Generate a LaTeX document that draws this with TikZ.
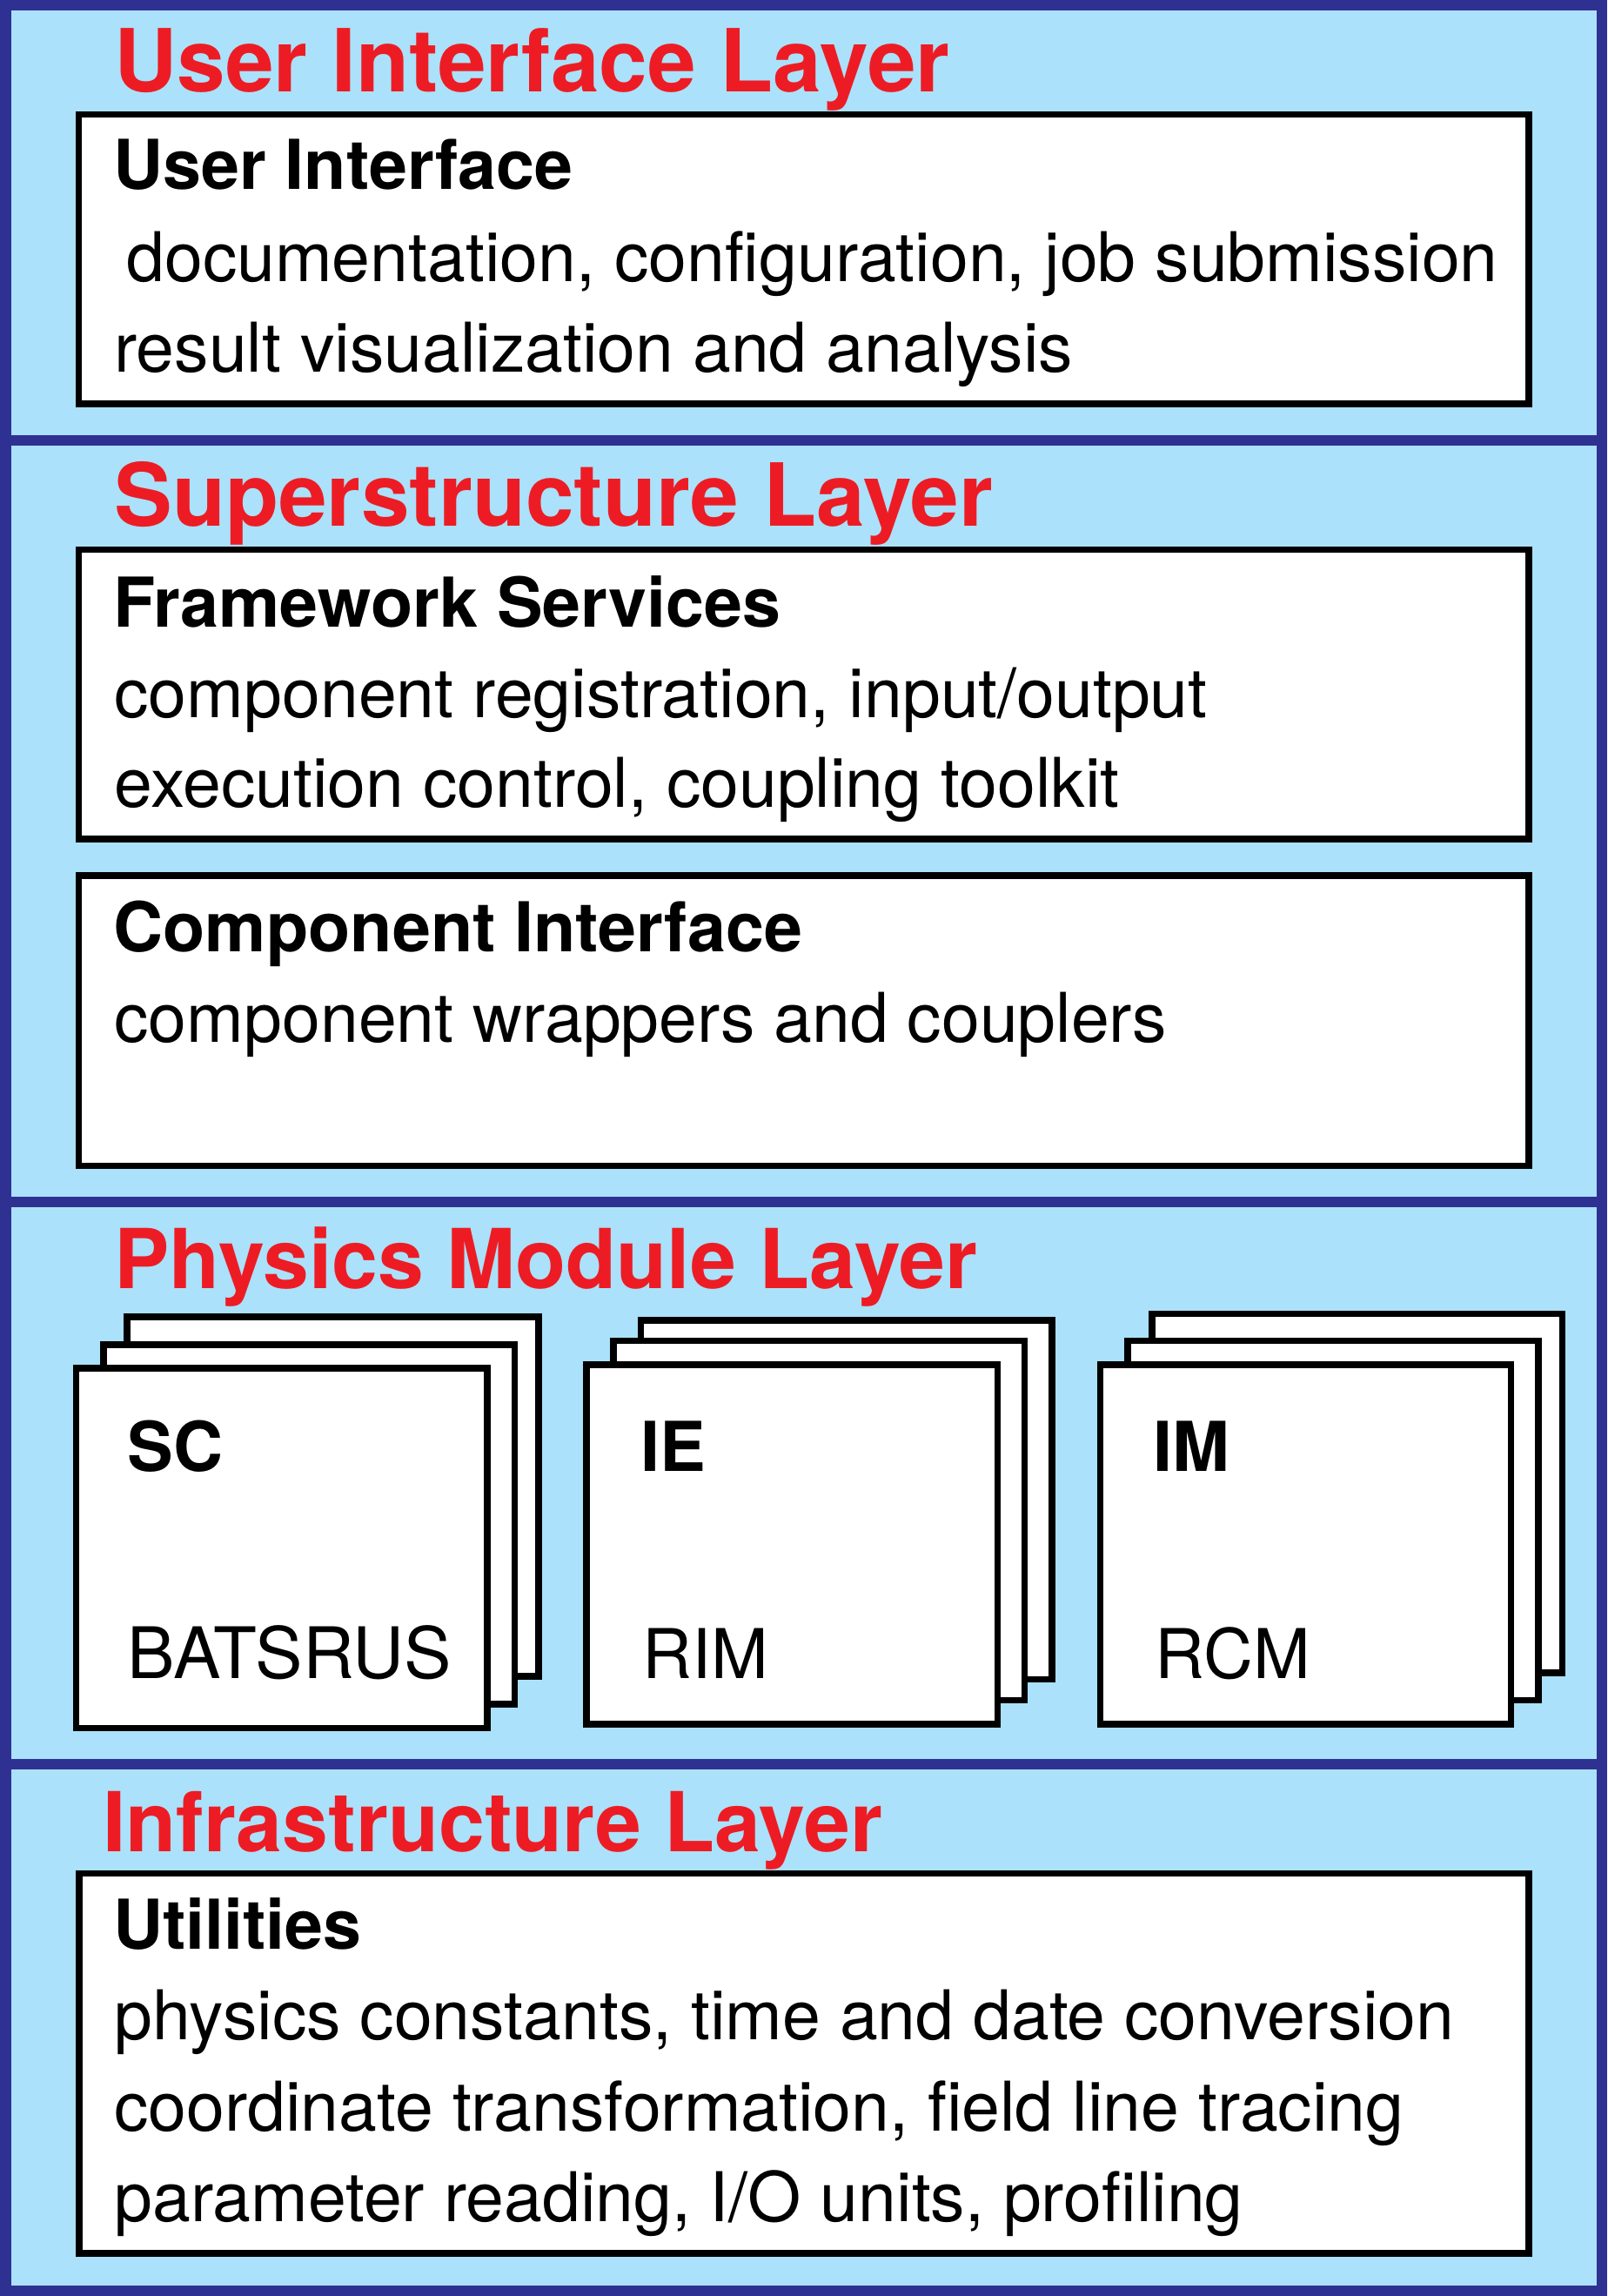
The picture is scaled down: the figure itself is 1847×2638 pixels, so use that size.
\documentclass[tikz,border=0pt]{standalone}
\usepackage{fontspec}
\setmainfont[Ligatures=CommonOff]{TeX Gyre Heros}
\usetikzlibrary{fit}
\definecolor{layerbg}{RGB}{171,225,250}
\definecolor{framecol}{RGB}{46,49,146}
\definecolor{titlered}{RGB}{237,28,36}
\tikzset{
 wbox/.style={draw=black, fill=white, line width=3.85pt, inner sep=0pt, outer sep=0pt},
 layertitle/.style={anchor=base west, inner sep=0pt, text=titlered, font=\fontsize{50pt}{60pt}\selectfont\bfseries},
 smalltitle/.style={layertitle, font=\fontsize{47.5pt}{57pt}\selectfont\bfseries},
 head/.style={anchor=base west, inner sep=0pt, font=\fontsize{39.5pt}{48pt}\selectfont\bfseries},
 body/.style={anchor=base west, inner sep=0pt, font=\fontsize{39.4pt}{48pt}\selectfont},
}
\begin{document}
\begin{tikzpicture}[x=0.5pt,y=-0.5pt]
\useasboundingbox (0,0) rectangle (1847,2638);
\fill[layerbg] (0,0) rectangle (1847,2638);
% layer separators
\draw[draw=framecol, line width=6pt] (0,506) -- (1847,506);
\draw[draw=framecol, line width=6pt] (0,1381) -- (1847,1381);
\draw[draw=framecol, line width=6pt] (0,2027) -- (1847,2027);
% outer frame
\draw[framecol, line width=6.25pt] (6.25,6.25) rectangle (1840.75,2631.75);

% ---- User Interface Layer
\node (t1) [layertitle] at (131,105.5) {User Interface Layer};
\node (ui) [wbox, fit={(90.5,131.5) (1757,464.3)}] {};
\node (uih) [head] at (130,218) {User Interface};
\node (uil1) [body] at (145,323) {documentation, configuration, job submission};
\node (uil2) [body] at (131,427.5) {result visualization and analysis};

% ---- Superstructure Layer
\node (t2) [layertitle] at (131,604.5) {Superstructure Layer};
\node (fs) [wbox, fit={(90.5,631.5) (1757,964)}] {};
\node (fsh) [head] at (130,720) {Framework Services};
\node (fsl1) [body] at (131,824) {component registration, input/output};
\node (fsl2) [body] at (131,927.5) {execution control, coupling toolkit};
\node (ci) [wbox, fit={(90.5,1006) (1757,1339.5)}] {};
\node (cih) [head] at (130,1093) {Component Interface};
\node (cil1) [body] at (131,1197.5) {component wrappers and couplers};

% ---- Physics Module Layer
\node (t3) [smalltitle] at (131,1480) {Physics Module Layer};
% SC stack
\node (sc3) [wbox, fit={(146,1513) (619,1926)}] {};
\node (sc2) [wbox, fit={(119,1545) (591.5,1958)}] {};
\node (sc1) [wbox, fit={(87.5,1572) (560,1985.5)}] {};
\node (sch) [head] at (146.5,1690) {SC};
\node (scb) [body, font=\fontsize{40.8pt}{48pt}\selectfont] at (146,1928) {BATSRUS};
% IE stack
\node (ie3) [wbox, fit={(736.5,1517) (1209,1929.5)}] {};
\node (ie2) [wbox, fit={(705,1540.5) (1177.5,1953.5)}] {};
\node (ie1) [wbox, fit={(674,1568) (1146.5,1981)}] {};
\node (ieh) [head] at (736,1690) {IE};
\node (ieb) [body] at (738,1928) {RIM};
% IM stack
\node (im3) [wbox, fit={(1324,1509.5) (1795.5,1922)}] {};
\node (im2) [wbox, fit={(1296,1540.5) (1768,1953.5)}] {};
\node (im1) [wbox, fit={(1264.5,1568) (1736.5,1981)}] {};
\node (imh) [head] at (1325.5,1690) {IM};
\node (imb) [body] at (1327,1928) {RCM};

% ---- Infrastructure Layer
\node (t4) [smalltitle] at (118,2127) {Infrastructure Layer};
\node (ut) [wbox, fit={(91,2152.5) (1757,2589)}] {};
\node (uth) [head] at (130,2239.5) {Utilities};
\node (utl1) [body] at (131,2343) {physics constants, time and date conversion};
\node (utl2) [body] at (131,2448) {coordinate transformation, field line tracing};
\node (utl3) [body] at (131,2552) {parameter reading, I/O units, profiling};
\end{tikzpicture}
\end{document}
